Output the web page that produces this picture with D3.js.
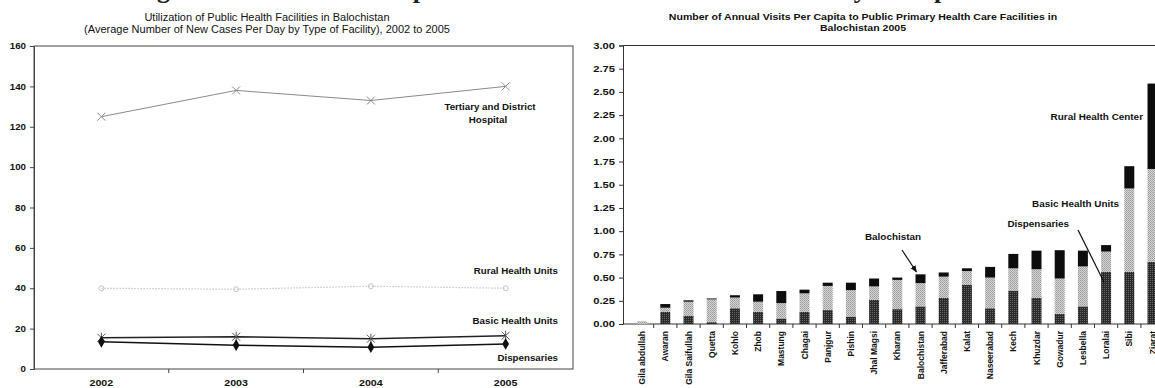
<!DOCTYPE html>
<html><head><meta charset="utf-8">
<script src="https://cdn.jsdelivr.net/npm/d3@7"></script>
<style>
html,body{margin:0;padding:0;background:#fff;}
svg{display:block;font-family:"Liberation Sans",Arial,sans-serif;}
</style></head>
<body>
<svg id="c" width="1155" height="388"></svg>
<script>
// ---------- data: left line chart ----------
const years = ["2002","2003","2004","2005"];
const tertiaryHosp = [125,138,133,140];
const ruralHealthUnits = [40,39.5,41,40];
const basicHealthUnits = [15.5,16,15,16.5];
const dispensariesTrend = [13.5,11.8,10.8,12.4];
const leftTicks = [0,20,40,60,80,100,120,140,160];

// ---------- data: right stacked bar chart ----------
const districts = ["Gila abdullah","Awaran","Gila Saifullah","Quetta","Kohlo","Zhob","Mastung","Chagai","Panjgur","Pishin","Jhal Magsi","Kharan","Balochistan","Jafferabad","Kalat","Naseerabad","Kech","Khuzdar","Gowadur","Lesbella","Loralai","Sibi","Ziarat"];
const dispVisits = [0.00,0.13,0.09,0.02,0.17,0.13,0.06,0.13,0.15,0.08,0.26,0.16,0.19,0.28,0.42,0.17,0.36,0.28,0.11,0.19,0.56,0.56,0.67];
const bhuVisits  = [0.03,0.045,0.15,0.245,0.115,0.11,0.165,0.2,0.26,0.285,0.145,0.315,0.25,0.23,0.15,0.33,0.24,0.31,0.38,0.43,0.22,0.90,1.00];
const rhcVisits  = [0.00,0.04,0.015,0.01,0.025,0.08,0.13,0.04,0.035,0.08,0.085,0.025,0.095,0.045,0.03,0.115,0.155,0.20,0.305,0.17,0.07,0.24,0.92];
const rightTicks = [0,0.25,0.5,0.75,1,1.25,1.5,1.75,2,2.25,2.5,2.75,3];

const svg = d3.select("#c");
function stretch(sel, f){
  sel.each(function(){
    const w = this.getComputedTextLength();
    this.setAttribute("textLength", (w*f).toFixed(1));
    this.setAttribute("lengthAdjust","spacingAndGlyphs");
  });
}

// patterns
const defs = svg.append("defs");
const pD = defs.append("pattern").attr("id","pDisp").attr("width",2).attr("height",2).attr("patternUnits","userSpaceOnUse");
pD.append("rect").attr("width",2).attr("height",2).attr("fill","#2a2a2a");
pD.append("rect").attr("width",1).attr("height",1).attr("fill","#666");
const pB = defs.append("pattern").attr("id","pBhu").attr("width",2).attr("height",2).attr("patternUnits","userSpaceOnUse");
pB.append("rect").attr("width",2).attr("height",2).attr("fill","#d6d6d6");
pB.append("rect").attr("width",1).attr("height",1).attr("fill","#9a9a9a");
pB.append("rect").attr("x",1).attr("y",1).attr("width",1).attr("height",1).attr("fill","#a8a8a8");
defs.append("marker").attr("id","arr").attr("viewBox","0 0 10 10").attr("refX",9).attr("refY",5)
  .attr("markerWidth",6).attr("markerHeight",6).attr("orient","auto")
  .append("path").attr("d","M0,1 L10,5 L0,9 Z").attr("fill","#111");

// partially visible page heading (cut at top)
svg.append("text").attr("x",578).attr("y",-2).attr("text-anchor","middle")
  .attr("font-family","'Liberation Serif',serif").attr("font-weight","bold").attr("font-size",26).attr("fill","#222")
  .text("Figure 3.8: Utilization of public health facilities has increased only for inpatients");

// ================= LEFT CHART =================
const L = {l:34, r:573, t:46, b:369};
const xL = d3.scaleBand().domain(years).range([L.l, L.r]);
const yL = d3.scaleLinear().domain([0,160]).range([L.b, L.t]);

const lt = svg.append("g").attr("font-size",10).attr("fill","#111").attr("text-anchor","middle");
lt.append("text").attr("x",267).attr("y",21).text("Utilization of Public Health Facilities in Balochistan");
lt.append("text").attr("x",267).attr("y",33).text("(Average Number of New Cases Per Day by Type of Facility), 2002 to 2005");
stretch(lt.selectAll("text"),1.1);

// frame
svg.append("rect").attr("x",L.l).attr("y",L.t).attr("width",L.r-L.l).attr("height",L.b-L.t)
  .attr("fill","none").attr("stroke","#444").attr("stroke-width",1);

const yAxL = svg.append("g").attr("transform",`translate(${L.l},0)`)
  .call(d3.axisLeft(yL).tickValues(leftTicks).tickSize(4).tickPadding(4).tickFormat(d3.format("d")));
yAxL.select(".domain").attr("stroke","#444");
yAxL.selectAll("line").attr("stroke","#444");
yAxL.selectAll("text").attr("font-weight","bold").attr("font-size",8.5).attr("fill","#111").attr("font-family","'Liberation Sans',Arial");
stretch(yAxL.selectAll("text"),1.15);

// x axis ticks at band boundaries
const xbL = years.slice(1).map(d => xL(d));
svg.append("g").selectAll("line").data(xbL).join("line")
  .attr("x1",d=>d).attr("x2",d=>d).attr("y1",L.b).attr("y2",L.b+4).attr("stroke","#444");
const xlab = svg.append("g").selectAll("text").data(years).join("text")
  .attr("x",d=>xL(d)+xL.bandwidth()/2).attr("y",L.b+17).attr("text-anchor","middle")
  .attr("font-weight","bold").attr("font-size",8.5).attr("fill","#111").text(d=>d);
stretch(xlab,1.25);

const cx = d => xL(d)+xL.bandwidth()/2;
const line = d3.line().x((d,i)=>cx(years[i])).y(d=>yL(d));
const series = [
  {v:tertiaryHosp, stroke:"#8a8a8a", w:1, dash:null, mk:"x"},
  {v:ruralHealthUnits, stroke:"#c4c4c4", w:1.2, dash:"1.5,1.5", mk:"o"},
  {v:basicHealthUnits, stroke:"#222", w:1.6, dash:null, mk:"star"},
  {v:dispensariesTrend, stroke:"#111", w:1.6, dash:null, mk:"diamond"}
];
series.forEach(s=>{
  svg.append("path").datum(s.v).attr("d",line).attr("fill","none")
    .attr("stroke",s.stroke).attr("stroke-width",s.w).attr("stroke-dasharray",s.dash);
  const g = svg.append("g");
  s.v.forEach((v,i)=>{
    const x = cx(years[i]), y = yL(v);
    if(s.mk==="x"){
      g.append("path").attr("d",`M${x-4},${y-4}L${x+4},${y+4}M${x-4},${y+4}L${x+4},${y-4}`).attr("stroke",s.stroke).attr("stroke-width",1);
    } else if(s.mk==="o"){
      g.append("circle").attr("cx",x).attr("cy",y).attr("r",2.5).attr("fill","none").attr("stroke","#c4c4c4");
    } else if(s.mk==="star"){
      g.append("path").attr("d",`M${x-4},${y-4}L${x+4},${y+4}M${x-4},${y+4}L${x+4},${y-4}M${x},${y-5}L${x},${y+5}`).attr("stroke","#555").attr("stroke-width",1);
    } else {
      g.append("path").attr("d",d3.symbol(d3.symbolDiamond,40)()).attr("transform",`translate(${x},${y})`).attr("fill","#111");
    }
  });
});

const ann = svg.append("g").attr("font-weight","bold").attr("font-size",9).attr("fill","#111");
ann.append("text").attr("x",490).attr("y",110).attr("text-anchor","middle").text("Tertiary and District");
ann.append("text").attr("x",488).attr("y",123).attr("text-anchor","middle").text("Hospital");
ann.append("text").attr("x",558).attr("y",274).attr("text-anchor","end").text("Rural Health Units");
ann.append("text").attr("x",558).attr("y",324).attr("text-anchor","end").text("Basic Health Units");
ann.append("text").attr("x",558).attr("y",361).attr("text-anchor","end").text("Dispensaries");
stretch(ann.selectAll("text"),1.08);

// ================= RIGHT CHART =================
const R = {l:623, t:45.5, b:324};
const xR = d3.scaleBand().domain(districts).range([630.5, 630.5+23*23.2]).paddingInner(0.57).paddingOuter(0.285);
const yR = d3.scaleLinear().domain([0,3]).range([R.b, R.t]);

const rt = svg.append("g").attr("font-size",8.5).attr("font-weight","bold").attr("fill","#111").attr("text-anchor","middle");
rt.append("text").attr("x",863).attr("y",20).text("Number of Annual Visits Per Capita to Public Primary Health Care Facilities in");
rt.append("text").attr("x",863).attr("y",31).text("Balochistan 2005");
stretch(rt.selectAll("text"),1.24);

// top border and bottom baseline
svg.append("line").attr("x1",R.l).attr("x2",1155).attr("y1",R.t).attr("y2",R.t).attr("stroke","#333");
svg.append("line").attr("x1",R.l).attr("x2",1155).attr("y1",R.b).attr("y2",R.b).attr("stroke","#333");

const yAxR = svg.append("g").attr("transform",`translate(${R.l},0)`)
  .call(d3.axisLeft(yR).tickValues(rightTicks).tickSize(4).tickPadding(4).tickFormat(d3.format(".2f")));
yAxR.select(".domain").attr("stroke","#333");
yAxR.selectAll("line").attr("stroke","#333");
yAxR.selectAll("text").attr("font-weight","bold").attr("font-size",8.5).attr("fill","#111").attr("font-family","'Liberation Sans',Arial");
stretch(yAxR.selectAll("text"),1.32);

const stepR = xR.step();
const xbR = districts.slice(1).map(d => xR(d) - (stepR - xR.bandwidth())/2);
svg.append("g").selectAll("line").data(xbR).join("line")
  .attr("x1",d=>d).attr("x2",d=>d).attr("y1",R.b).attr("y2",R.b+4).attr("stroke","#333");

// stacked bars
const rows = districts.map((d,i)=>({d, disp:dispVisits[i], bhu:bhuVisits[i], rhc:rhcVisits[i]}));
const stack = d3.stack().keys(["disp","bhu","rhc"])(rows);
const fills = {disp:"url(#pDisp)", bhu:"url(#pBhu)", rhc:"#0d0d0d"};
stack.forEach(layer=>{
  svg.append("g").selectAll("rect").data(layer).join("rect")
    .attr("x",d=>xR(d.data.d)).attr("width",xR.bandwidth())
    .attr("y",d=>yR(d[1])).attr("height",d=>Math.max(0,yR(d[0])-yR(d[1])))
    .attr("fill",fills[layer.key]);
});

// category labels rotated
svg.append("g").selectAll("text").data(districts).join("text")
  .attr("transform",d=>`translate(${xR(d)+xR.bandwidth()/2+3},${R.b+7}) rotate(-90)`)
  .attr("text-anchor","end").attr("font-weight","bold").attr("font-size",8.5).attr("fill","#111").text(d=>d);

// annotations
const ra = svg.append("g").attr("font-weight","bold").attr("font-size",9).attr("fill","#111");
ra.append("text").attr("x",1143).attr("y",120).attr("text-anchor","end").text("Rural Health Center");
ra.append("text").attr("x",1119).attr("y",207).attr("text-anchor","end").text("Basic Health Units");
ra.append("text").attr("x",1069).attr("y",227).attr("text-anchor","end").text("Dispensaries");
ra.append("text").attr("x",893).attr("y",240).attr("text-anchor","middle").text("Balochistan");
stretch(ra.selectAll("text"),1.1);
svg.append("line").attr("x1",1078).attr("y1",230).attr("x2",xR("Loralai")+3).attr("y2",yR(0.45)).attr("stroke","#111").attr("stroke-width",1.2);
svg.append("line").attr("x1",902).attr("y1",250).attr("x2",xR("Balochistan")+1).attr("y2",yR(0.56)).attr("stroke","#111").attr("stroke-width",1.2).attr("marker-end","url(#arr)");
</script>
</body></html>
